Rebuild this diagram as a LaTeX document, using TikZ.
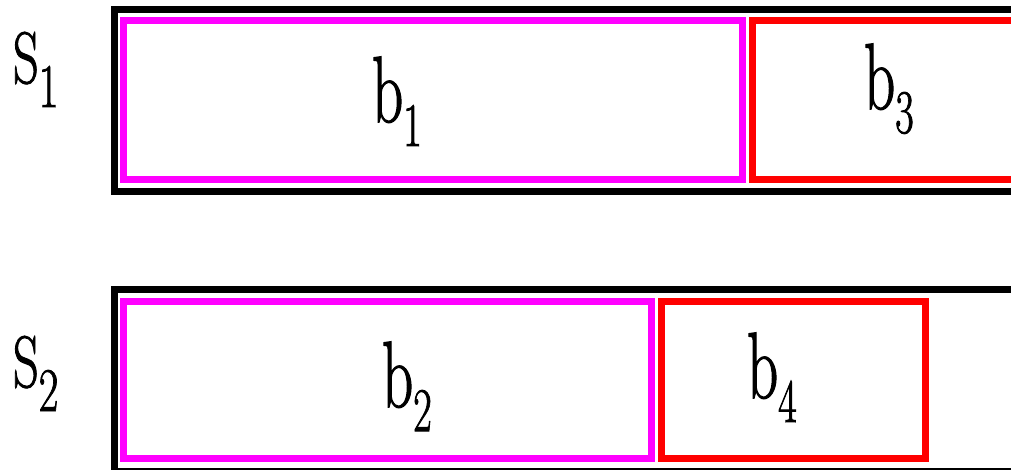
\documentclass[tikz,border=0pt]{standalone}
\usepackage{fontspec}
\setmainfont{Latin Modern Roman}[BoldFont=Latin Modern Roman,BoldFeatures={FakeBold=1.6}]
\newcommand\mylab[3]{\scalebox{#3}[1]{\bfseries\fontsize{#1}{#1}\selectfont #2}}
\newcommand\mysub[1]{\raisebox{-24pt}{\bfseries\fontsize{62}{62}\selectfont #1}}
\begin{document}
\begin{tikzpicture}[x=1pt,y=-1pt,
  setbox/.style={draw=black,line width=7pt},
  pbox/.style={draw={rgb,255:red,255;green,0;blue,255},line width=7pt},
  rbox/.style={draw=red,line width=7pt},
  lbl/.style={anchor=base west,inner sep=0pt,outer sep=0pt}]
\useasboundingbox (0,0) rectangle (1011,470);
\clip (0,0) rectangle (1011,470);
% set S1
\draw[setbox] (114,9.5) rectangle (1030,191.5);
\draw[pbox] (123.5,21) rectangle (742.5,179.5);
\draw[rbox] (752,21) rectangle (1030,179.5);
% set S2
\draw[setbox] (114,289) rectangle (1030,471);
\draw[pbox] (123.5,301) rectangle (651.5,458.5);
\draw[rbox] (661,301) rectangle (925,458.5);
% labels
\node[lbl] (s1) at (13,83) {\mylab{73}{S\mysub{1}}{0.69}};
\node[lbl] (s2) at (13,387) {\mylab{73}{S\mysub{2}}{0.69}};
\node[lbl] (b1) at (372,122) {\mylab{94}{b\mysub{1}}{0.65}};
\node[lbl] (b3) at (864,109) {\mylab{94}{b\mysub{3}}{0.65}};
\node[lbl] (b2) at (382,407) {\mylab{94}{b\mysub{2}}{0.65}};
\node[lbl] (b4) at (747,398) {\mylab{94}{b\mysub{4}}{0.65}};
\end{tikzpicture}
\end{document}
